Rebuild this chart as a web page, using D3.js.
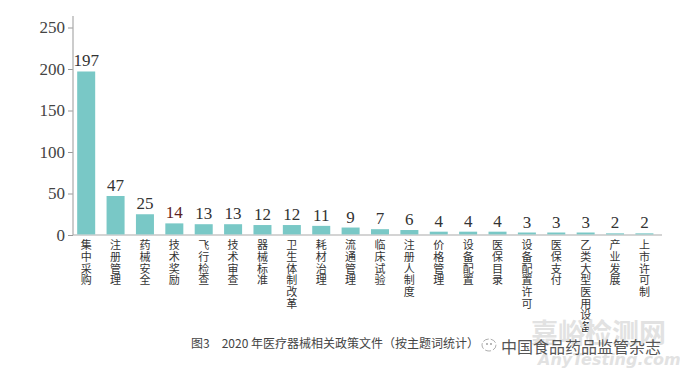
<!DOCTYPE html>
<html>
<head>
<meta charset="utf-8">
<script src="https://cdn.jsdelivr.net/npm/d3@7"></script>
<style>
  html, body { margin: 0; padding: 0; background: #fff; }
</style>
</head>
<body>
<div id="chart"></div>
<script>
// 主题词 & 文件数量
const topics = ['集中采购', '注册管理', '药械安全', '技术奖励', '飞行检查', '技术审查', '器械标准',
    '卫生体制改革', '耗材治理', '流通管理', '临床试验', '注册人制度', '价格管理', '设备配置',
    '医保目录', '设备配置许可', '医保支付', '乙类大型医用设备', '产业发展', '上市许可制'];
const counts = [197, 47, 25, 14, 13, 13, 12, 12, 11, 9, 7, 6, 4, 4, 4, 3, 3, 3, 2, 2];
const yTicks = [0, 50, 100, 150, 200, 250];
const caption = '图3\u30002020 年医疗器械相关政策文件（按主题词统计）';

const width = 680, height = 380;
const svg = d3.select('#chart').append('svg')
    .attr('width', width)
    .attr('height', height)
    .style('font-family', '"Noto Sans CJK SC", sans-serif');

const x = d3.scaleBand()
    .domain(topics)
    .range([71.6, 659])
    .paddingInner(0.387)
    .paddingOuter(0.19);

const y = d3.scaleLinear()
    .domain([0, 250])
    .range([235, 27.5]);

// y 轴
const yAxis = svg.append('g')
    .attr('transform', 'translate(73,0)')
    .call(d3.axisLeft(y).tickValues(yTicks).tickSize(5).tickPadding(3));
yAxis.select('.domain').remove();
yAxis.selectAll('.tick line').attr('stroke', '#999');
yAxis.selectAll('.tick text')
    .attr('fill', '#444')
    .style('font-family', '"Liberation Serif", "DejaVu Serif", serif')
    .style('font-size', '17px');

svg.append('line')
    .attr('x1', 73).attr('x2', 73)
    .attr('y1', 16).attr('y2', 235)
    .attr('stroke', '#aaa').attr('stroke-width', 1.2);
svg.append('line')
    .attr('x1', 73).attr('x2', 662)
    .attr('y1', 235).attr('y2', 235)
    .attr('stroke', '#aaa').attr('stroke-width', 1.2);

// 柱子
svg.append('g').selectAll('rect')
    .data(counts)
    .join('rect')
    .attr('x', (d, i) => x(topics[i]))
    .attr('y', d => y(d))
    .attr('width', x.bandwidth())
    .attr('height', d => y(0) - y(d) - 0.6)
    .attr('fill', '#79c8c6');

// 数值
svg.append('g').selectAll('text')
    .data(counts)
    .join('text')
    .attr('x', (d, i) => x(topics[i]) + x.bandwidth() / 2)
    .attr('y', d => y(d) - 5)
    .attr('text-anchor', 'middle')
    .attr('fill', d => d === 14 ? '#5c2222' : '#333')
    .style('font-family', '"Liberation Serif", "DejaVu Serif", serif')
    .style('font-size', '17px')
    .text(d => d);

// 竖排类别标签
svg.append('g').selectAll('text')
    .data(topics)
    .join('text')
    .attr('x', d => x(d) + x.bandwidth() / 2)
    .attr('y', 239.5)
    .attr('fill', '#333')
    .style('writing-mode', 'vertical-rl')
    .style('letter-spacing', '0.7px')
    .style('font-size', '11px')
    .text(d => d);

// 图注
svg.append('text')
    .attr('x', 191)
    .attr('y', 348)
    .attr('fill', '#444')
    .style('font-size', '12px')
    .text(caption);

// 水印
svg.append('text')
    .attr('x', 531)
    .attr('y', 343)
    .attr('fill', '#e2e2e2')
    .style('font-size', '27px')
    .style('font-weight', 'bold')
    .text('嘉峪检测网');
svg.append('text')
    .attr('x', 538)
    .attr('y', 365)
    .attr('fill', '#e2e2e2')
    .style('font-family', '"DejaVu Sans", sans-serif')
    .style('font-size', '16px')
    .style('font-style', 'italic')
    .style('font-weight', 'bold')
    .text('AnyTesting.com');

const logo = svg.append('g').attr('transform', 'translate(489,345)');
logo.append('ellipse').attr('rx', 7).attr('ry', 6).attr('fill', '#fff')
    .attr('stroke', '#999').attr('stroke-width', 0.8).attr('stroke-dasharray', '6 2');
logo.append('circle').attr('cx', -2).attr('cy', -1).attr('r', 0.9).attr('fill', '#999');
logo.append('circle').attr('cx', 2).attr('cy', -1).attr('r', 0.9).attr('fill', '#999');

svg.append('text')
    .attr('x', 501)
    .attr('y', 353)
    .attr('fill', '#555')
    .style('font-size', '16px')
    .text('中国食品药品监管杂志');
</script>
</body>
</html>
